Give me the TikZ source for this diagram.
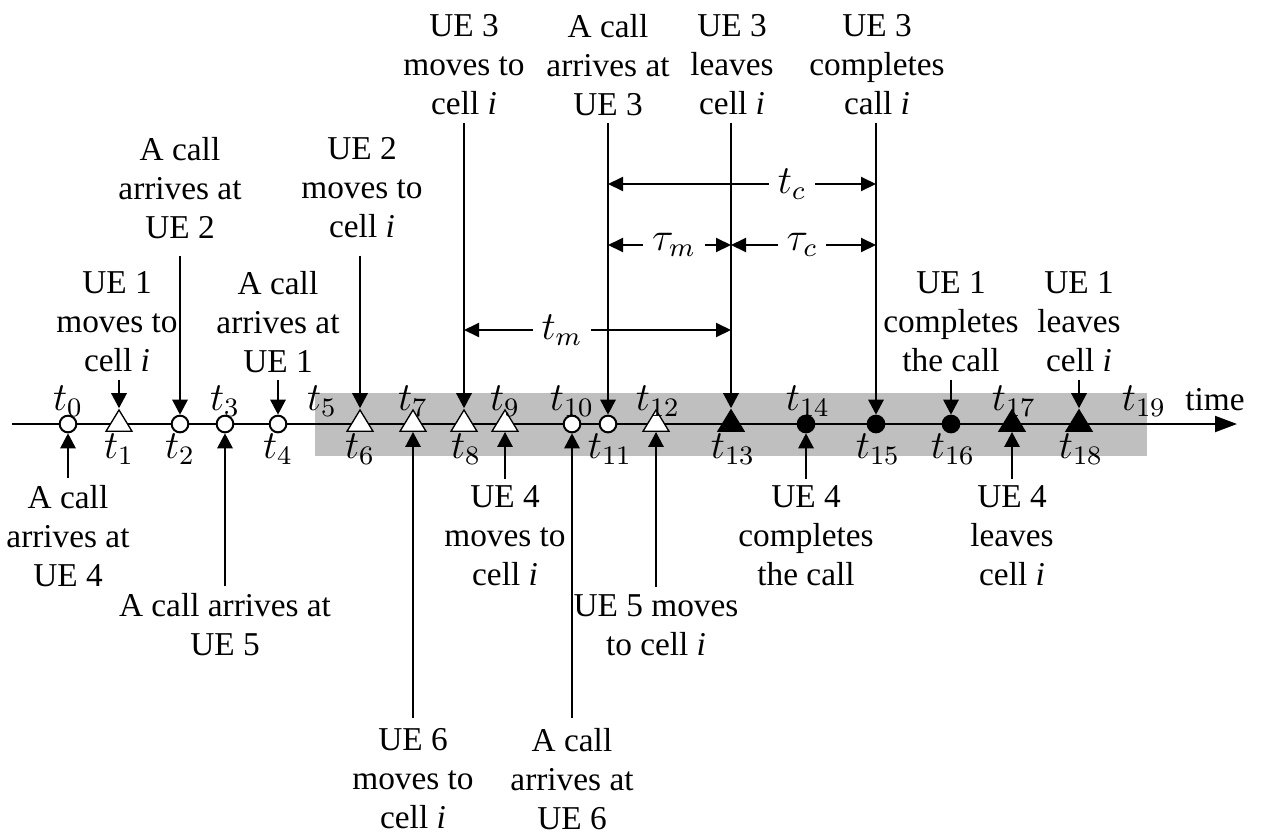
\documentclass[tikz,border=0pt]{standalone}
\usepackage{fontspec}
\setmainfont{Liberation Serif}
\usetikzlibrary{arrows.meta,shapes.geometric}
\begin{document}
\begin{tikzpicture}[x=0.3pt,y=-0.3pt,
 lbl/.style={font=\fontsize{10}{11.7}\selectfont, align=center, inner sep=2pt},
 tl/.style={font=\fontsize{12}{13}\selectfont, inner sep=0pt},
 dl/.style={font=\fontsize{12}{13}\selectfont, inner sep=2.5pt},
 ev/.style={-{Triangle[length=4.5pt,width=4.6pt]}, line width=0.6pt},
 dim/.style={-{Triangle[length=4.5pt,width=4.2pt]}, line width=0.6pt},
 wc/.style={circle, draw, fill=white, minimum size=5pt, inner sep=0pt, line width=0.6pt},
 bc/.style={wc, fill=black},
 wt/.style={isosceles triangle, shape border rotate=90, isosceles triangle stretches, minimum width=7.8pt, minimum height=6.4pt, inner sep=0pt, draw, fill=white, line width=0.4pt},
 bt/.style={wt, fill=black},
]
\useasboundingbox (0,0) rectangle (1261,832);
\fill[gray!50] (315,393) rectangle (1147,456);
\coordinate (ax0) at (12,424);
\coordinate (ax1) at (1237,424);
\draw[line width=0.6pt,-{Triangle[length=6.6pt,width=4.8pt]}] (ax0) -- (ax1);
\node[font=\fontsize{10}{11.7}\selectfont, inner sep=0pt] (time) at (1215,400) {time};

% markers
\node[wc] (m0) at (68,424) {};
\node[wt] (m1) at (119,424) {};
\node[wc] (m2) at (180,424) {};
\node[wc] (m3) at (225,424) {};
\node[wc] (m4) at (278,424) {};
\node[wt] (m6) at (360,424) {};
\node[wt] (m7) at (413,424) {};
\node[wt] (m8) at (464,424) {};
\node[wt] (m9) at (505,424) {};
\node[wc] (m10) at (572,424) {};
\node[wc] (m11) at (608,424) {};
\node[wt] (m12) at (656,424) {};
\node[bt] (m13) at (731,424) {};
\node[bc] (m14) at (806,424) {};
\node[bc] (m15) at (876,424) {};
\node[bc] (m16) at (951,424) {};
\node[bt] (m17) at (1012,424) {};
\node[bt] (m18) at (1079,424) {};

% t labels
\node[tl] (l0) at (68,401) {$t_0$};
\node[tl] (l1) at (119,449) {$t_1$};
\node[tl] (l2) at (180,449) {$t_2$};
\node[tl] (l3) at (225,401) {$t_3$};
\node[tl] (l4) at (278,449) {$t_4$};
\node[tl] (l5) at (322,401) {$t_5$};
\node[tl] (l6) at (360,449) {$t_6$};
\node[tl] (l7) at (413,401) {$t_7$};
\node[tl] (l8) at (466,449) {$t_8$};
\node[tl] (l9) at (505,401) {$t_9$};
\node[tl] (l10) at (572,401) {$t_{10}$};
\node[tl] (l11) at (610,449) {$t_{11}$};
\node[tl] (l12) at (658,401) {$t_{12}$};
\node[tl] (l13) at (733,449) {$t_{13}$};
\node[tl] (l14) at (808,401) {$t_{14}$};
\node[tl] (l15) at (878,449) {$t_{15}$};
\node[tl] (l16) at (953,449) {$t_{16}$};
\node[tl] (l17) at (1014,401) {$t_{17}$};
\node[tl] (l18) at (1081,449) {$t_{18}$};
\node[tl] (l19) at (1144,401) {$t_{19}$};

% top texts
\node[lbl] (T8) at (464,65) {UE 3\\moves to\\cell \textit{i}};
\node[lbl] (T11) at (608,65) {A call\\arrives at\\UE 3};
\node[lbl] (T13) at (732,65) {UE 3\\leaves\\cell \textit{i}};
\node[lbl] (T15) at (877,65) {UE 3\\completes\\call \textit{i}};
\node[lbl] (T2) at (180,188) {A call\\arrives at\\UE 2};
\node[lbl] (T6) at (362,188) {UE 2\\moves to\\cell \textit{i}};
\node[lbl] (T1) at (117,322) {UE 1\\moves to\\cell \textit{i}};
\node[lbl] (T4) at (278,322) {A call\\arrives at\\UE 1};
\node[lbl] (T16) at (951,322) {UE 1\\completes\\the call};
\node[lbl] (T18) at (1079,322) {UE 1\\leaves\\cell \textit{i}};

% bottom texts
\node[lbl] (B0) at (68,536) {A call\\arrives at\\UE 4};
\node[lbl] (B9) at (505,536) {UE 4\\moves to\\cell \textit{i}};
\node[lbl] (B14) at (806,536) {UE 4\\completes\\the call};
\node[lbl] (B17) at (1012,536) {UE 4\\leaves\\cell \textit{i}};
\node[lbl] (B3) at (225,625) {A call arrives at\\UE 5};
\node[lbl] (B12) at (656,625) {UE 5 moves\\to cell \textit{i}};
\node[lbl] (B7) at (413,779) {UE 6\\moves to\\cell \textit{i}};
\node[lbl] (B10) at (572,779) {A call\\arrives at\\UE 6};

% event arrows from above
\draw[ev] (m8 |- T8.south) -- (m8.north);
\draw[ev] (m11 |- T11.south) -- (m11.north);
\draw[ev] (m13 |- T13.south) -- (m13.north);
\draw[ev] (m15 |- T15.south) -- (m15.north);
\draw[ev] ([yshift=-3pt]m2 |- T2.south) -- (m2.north);
\draw[ev] ([yshift=-3pt]m6 |- T6.south) -- (m6.north);
\draw[ev] (m1 |- T1.south) -- (m1.north);
\draw[ev] (m4 |- T4.south) -- (m4.north);
\draw[ev] (m16 |- T16.south) -- (m16.north);
\draw[ev] (m18 |- T18.south) -- (m18.north);

% event arrows from below
\draw[ev] (m0 |- B0.north) -- (m0.south);
\draw[ev] (m9 |- B9.north) -- (m9.south);
\draw[ev] (m14 |- B14.north) -- (m14.south);
\draw[ev] (m17 |- B17.north) -- (m17.south);
\draw[ev] (m3 |- B3.north) -- (m3.south);
\draw[ev] (m12 |- B12.north) -- (m12.south);
\draw[ev] ([yshift=1pt]m7 |- B7.north) -- (m7.south);
\draw[ev] ([yshift=1pt]m10 |- B10.north) -- (m10.south);

% dimension arrows
\node[dl] (Ltc) at (792,184) {$t_c$};
\draw[dim] (Ltc.west) -- (m11 |- Ltc.west);
\draw[dim] (Ltc.east) -- (m15 |- Ltc.east);
\node[dl] (Ltm) at (674,245) {$\tau_m$};
\draw[dim] (Ltm.west) -- (m11 |- Ltm.west);
\draw[dim] (Ltm.east) -- (m13 |- Ltm.east);
\node[dl] (Ltauc) at (802,245) {$\tau_c$};
\draw[dim] (Ltauc.west) -- (m13 |- Ltauc.west);
\draw[dim] (Ltauc.east) -- (m15 |- Ltauc.east);
\node[dl] (Lm) at (562,330) {$t_m$};
\draw[dim] (Lm.west) -- (m8 |- Lm.west);
\draw[dim] (Lm.east) -- (m13 |- Lm.east);
\end{tikzpicture}
\end{document}
